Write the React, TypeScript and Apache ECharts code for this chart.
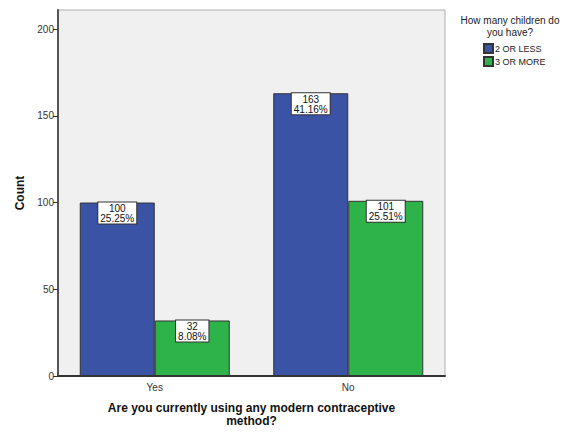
import React, { useEffect, useRef } from "react";
import * as echarts from "echarts";

const categories = ["Yes", "No"];
const seriesNames = ["2 OR LESS", "3 OR MORE"];
const lessValues = [100, 163];
const moreValues = [32, 101];
const lessPct = ["25.25%", "41.16%"];
const morePct = ["8.08%", "25.51%"];
const yTicks = [0, 50, 100, 150, 200];

const FONT = "Liberation Sans, Arial, sans-serif";

export default function App() {
  const ref = useRef<HTMLDivElement>(null);
  useEffect(() => {
    if (!ref.current) return;
    const chart = echarts.init(ref.current, undefined, { renderer: "svg" });
    const mkLabel = (pcts: string[]) => ({
      show: true,
      position: "insideTop",
      distance: 0,
      formatter: (p: any) => `${p.value}\n${pcts[p.dataIndex]}`,
      backgroundColor: "#ffffff",
      borderColor: "#333333",
      borderWidth: 1,
      padding: [1, 2, 0, 2],
      color: "#111",
      fontSize: 10,
      lineHeight: 10,
      fontFamily: FONT,
    });
    chart.setOption({
      animation: false,
      textStyle: { fontFamily: FONT },
      grid: {
        left: 58,
        top: 10,
        right: 139,
        bottom: 54,
        show: true,
        backgroundColor: "#f0f0f0",
        borderColor: "#b0b0b0",
        borderWidth: 1,
      },
      title: {
        text: "How many children do\nyou have?",
        left: 505,
        top: 9,
        textAlign: "center",
        textStyle: { fontSize: 10, fontWeight: "normal", color: "#222", lineHeight: 12, fontFamily: FONT },
      },
      legend: {
        orient: "vertical",
        left: 483,
        top: 43,
        itemWidth: 9,
        itemHeight: 9,
        itemGap: 2,
        icon: "rect",
        padding: 0,
        textStyle: { fontSize: 9, color: "#222", fontFamily: FONT, padding: [0, 0, 0, -3], lineHeight: 11 },
        data: seriesNames,
      },
      xAxis: {
        type: "category",
        data: categories,
        boundaryGap: true,
        name: "Are you currently using any modern contraceptive\nmethod?",
        nameLocation: "middle",
        nameGap: 25,
        nameTextStyle: { fontSize: 12, fontWeight: "bold", color: "#111", lineHeight: 13, fontFamily: FONT },
        axisLine: { lineStyle: { color: "#333", width: 2 } },
        axisTick: { alignWithLabel: true, length: 5, lineStyle: { color: "#333" } },
        axisLabel: { fontSize: 10, color: "#333", margin: 6, fontFamily: FONT },
      },
      yAxis: {
        type: "value",
        min: 0,
        max: 211,
        name: "Count",
        nameLocation: "middle",
        nameGap: 29,
        nameTextStyle: { fontSize: 12, fontWeight: "bold", color: "#111", fontFamily: FONT },
        axisLine: { show: true, lineStyle: { color: "#555", width: 2 } },
        axisTick: { show: true, length: 5, customValues: yTicks, lineStyle: { color: "#333" } },
        axisLabel: { fontSize: 10, color: "#333", margin: 4, customValues: yTicks, fontFamily: FONT },
        splitLine: { show: false },
      },
      series: [
        {
          name: seriesNames[0],
          type: "bar",
          data: lessValues,
          barWidth: 75,
          barGap: "0%",
          itemStyle: { color: "#3a53a4", borderColor: "#333", borderWidth: 1 },
          label: mkLabel(lessPct),
        },
        {
          name: seriesNames[1],
          type: "bar",
          data: moreValues,
          barWidth: 75,
          barGap: "0%",
          itemStyle: { color: "#2db34a", borderColor: "#333", borderWidth: 1 },
          label: mkLabel(morePct),
        },
      ],
    });
    return () => chart.dispose();
  }, []);
  return <div ref={ref} style={{ width: 584, height: 432, position: "absolute", left: 0, top: 0, background: "#fff" }} />;
}
